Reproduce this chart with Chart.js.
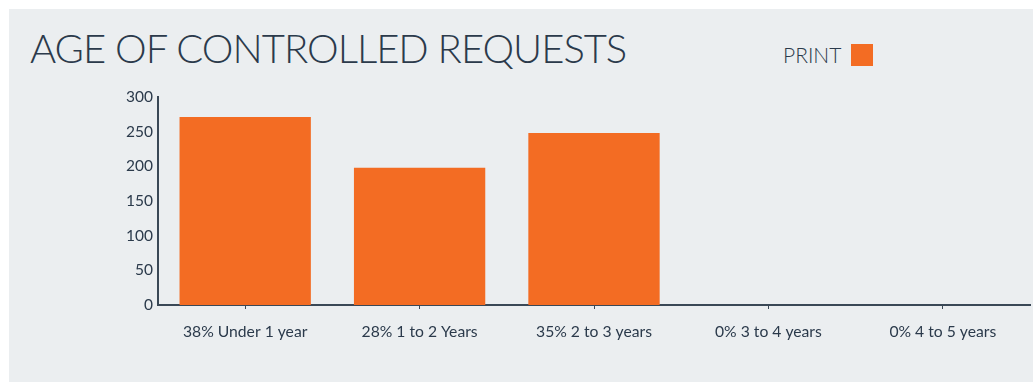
<!DOCTYPE html>
<html lang="en">
<head>
    <meta charset="UTF-8">
    <title>Age of Controlled Requests</title>
    <style>
        html, body {
            margin: 0;
            padding: 0;
            background-color: #ffffff;
            font-family: 'Lato', sans-serif;
            color: #2b3a4b;
        }
        .panel {
            position: absolute;
            left: 9px;
            top: 9px;
            width: 1024px;
            height: 373px;
            background-color: #ebeef0;
        }
        .title {
            position: absolute;
            left: 30px;
            top: 24px;
            margin: 0;
            font-size: 40px;
            font-weight: 300;
            line-height: 48px;
            letter-spacing: -1px;
            white-space: nowrap;
        }
        .legend {
            position: absolute;
            left: 783px;
            top: 42px;
            font-size: 21px;
            font-weight: 300;
            line-height: 25px;
        }
        .legend .box {
            display: inline-block;
            width: 22px;
            height: 22px;
            margin-left: 10px;
            vertical-align: -3px;
            background-color: #f36c23;
        }
        .chart-container {
            position: absolute;
            left: 0;
            top: 0;
            width: 1033px;
            height: 382px;
        }
    </style>
    <script src="https://cdn.jsdelivr.net/npm/chart.js"></script>
</head>
<body>
    <div class="panel"></div>
    <h1 class="title">AGE OF CONTROLLED REQUESTS</h1>
    <div class="legend">PRINT<span class="box"></span></div>
    <div class="chart-container">
        <canvas id="ageChart" width="1033" height="382"></canvas>
    </div>

    <script>
        const categories = ['38% Under 1 year', '28% 1 to 2 Years', '35% 2 to 3 years', '0% 3 to 4 years', '0% 4 to 5 years'];
        const printValues = [271, 198, 248, 0, 0];
        const yTicks = [0, 50, 100, 150, 200, 250, 300];

        const ink = '#2b3a4b';
        const axisColor = '#3a4856';
        const barColor = '#f36c23';

        const ctx = document.getElementById('ageChart').getContext('2d');
        new Chart(ctx, {
            type: 'bar',
            data: {
                labels: categories,
                datasets: [{
                    label: 'PRINT',
                    data: printValues,
                    backgroundColor: barColor,
                    borderWidth: 0,
                    categoryPercentage: 1,
                    barPercentage: 0.753
                }]
            },
            options: {
                responsive: false,
                animation: false,
                layout: {
                    padding: { left: 100, top: 97, right: 3, bottom: 37 }
                },
                plugins: {
                    legend: { display: false },
                    tooltip: { enabled: false }
                },
                scales: {
                    x: {
                        grid: {
                            offset: false,
                            drawOnChartArea: false,
                            tickLength: 4,
                            color: axisColor,
                            lineWidth: 1
                        },
                        border: { color: axisColor, width: 2 },
                        ticks: {
                            color: ink,
                            padding: 14,
                            maxRotation: 0,
                            font: { family: 'Lato', size: 15.7 }
                        },
                        afterFit: scale => { scale.height = 40; }
                    },
                    y: {
                        min: 0,
                        max: 300,
                        grid: { display: false, drawTicks: false },
                        border: { color: axisColor, width: 2 },
                        afterBuildTicks: scale => {
                            scale.ticks = yTicks.map(v => ({ value: v }));
                        },
                        ticks: {
                            color: ink,
                            padding: 5,
                            font: { family: 'Lato', size: 15.5 }
                        },
                        afterFit: scale => { scale.width = 58; }
                    }
                }
            }
        });
    </script>
</body>
</html>
